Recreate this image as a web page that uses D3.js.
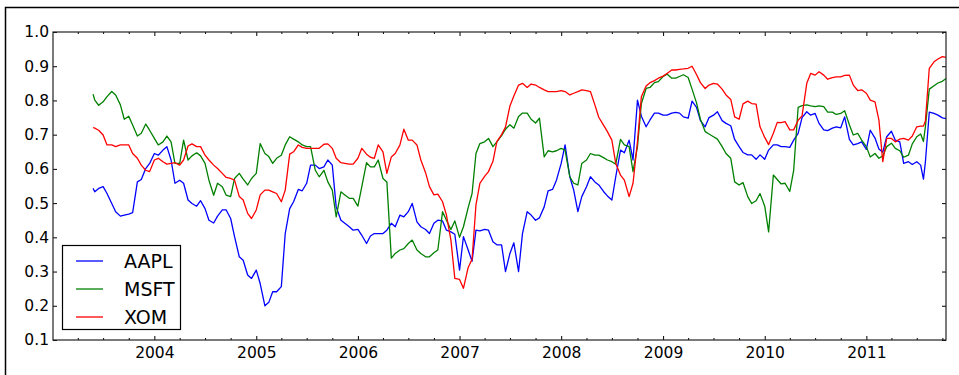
<!DOCTYPE html>
<html><head><meta charset="utf-8">
<script src="https://cdn.jsdelivr.net/npm/d3@7"></script>
<style>body{margin:0;background:#fff}svg{display:block}</style>
</head><body>
<svg id="chart" width="959" height="375"></svg>
<script>
const dates = [
"2003-05-26","2003-06-01","2003-06-15","2003-07-01","2003-07-15","2003-08-01","2003-08-15","2003-09-01","2003-09-15","2003-10-01","2003-10-15","2003-11-01","2003-11-15","2003-12-01","2003-12-15",
"2004-01-01","2004-01-15","2004-02-01","2004-02-15","2004-03-01","2004-03-15","2004-04-01","2004-04-15","2004-05-01","2004-05-15","2004-06-01","2004-06-15","2004-07-01","2004-07-15","2004-08-01","2004-08-15","2004-09-01","2004-09-15","2004-10-01","2004-10-15","2004-11-01","2004-11-15","2004-12-01","2004-12-15",
"2005-01-01","2005-01-15","2005-02-01","2005-02-15","2005-03-01","2005-03-15","2005-04-01","2005-04-15","2005-05-01","2005-05-15","2005-06-01","2005-06-15","2005-07-01","2005-07-15","2005-08-01","2005-08-15","2005-09-01","2005-09-15","2005-10-01","2005-10-15","2005-11-01","2005-11-15","2005-12-01","2005-12-15",
"2006-01-01","2006-01-15","2006-02-01","2006-02-15","2006-03-01","2006-03-15","2006-04-01","2006-04-15","2006-05-01","2006-05-15","2006-06-01","2006-06-15","2006-07-01","2006-07-15","2006-08-01","2006-08-15","2006-09-01","2006-09-15","2006-10-01","2006-10-15","2006-11-01","2006-11-15","2006-12-01","2006-12-15",
"2007-01-01","2007-01-15","2007-02-01","2007-02-15","2007-03-01","2007-03-15","2007-04-01","2007-04-15","2007-05-01","2007-05-15","2007-06-01","2007-06-15","2007-07-01","2007-07-15","2007-08-01","2007-08-15","2007-09-01","2007-09-15","2007-10-01","2007-10-15","2007-11-01","2007-11-15","2007-12-01","2007-12-15",
"2008-01-01","2008-01-15","2008-02-01","2008-02-15","2008-03-01","2008-03-15","2008-04-01","2008-04-15","2008-05-01","2008-05-15","2008-06-01","2008-06-15","2008-07-01","2008-07-15","2008-08-01","2008-08-15","2008-09-01","2008-09-15","2008-10-01","2008-10-15","2008-11-01","2008-11-15","2008-12-01","2008-12-15",
"2009-01-01","2009-01-15","2009-02-01","2009-02-15","2009-03-01","2009-03-15","2009-04-01","2009-04-15","2009-05-01","2009-05-15","2009-06-01","2009-06-15","2009-07-01","2009-07-15","2009-08-01","2009-08-15","2009-09-01","2009-09-15","2009-10-01","2009-10-15","2009-11-01","2009-11-15","2009-12-01","2009-12-15",
"2010-01-01","2010-01-15","2010-02-01","2010-02-15","2010-03-01","2010-03-15","2010-04-01","2010-04-15","2010-05-01","2010-05-15","2010-06-01","2010-06-15","2010-07-01","2010-07-15","2010-08-01","2010-08-15","2010-09-01","2010-09-15","2010-10-01","2010-10-15","2010-11-01","2010-11-15","2010-12-01","2010-12-15",
"2011-01-01","2011-01-15","2011-02-01","2011-02-15","2011-03-01","2011-03-15","2011-04-01","2011-04-15","2011-05-01","2011-05-15","2011-06-01","2011-06-15","2011-07-01","2011-07-15","2011-07-25","2011-08-01","2011-08-15","2011-09-01","2011-09-15","2011-10-01","2011-10-14"
];

const aapl = [
0.543,0.533,0.543,0.548,0.528,0.499,0.475,0.462,0.465,0.468,0.472,0.562,0.569,0.601,0.616,
0.645,0.640,0.655,0.665,0.626,0.558,0.567,0.558,0.509,0.499,0.491,0.507,0.484,0.450,0.442,0.462,0.480,0.480,0.455,0.402,0.343,0.333,0.290,0.280,
0.304,0.265,0.200,0.210,0.241,0.241,0.256,0.411,0.484,0.504,0.540,0.536,0.558,0.611,0.611,0.601,0.606,0.626,0.611,0.489,0.450,0.441,0.431,0.421,
0.423,0.406,0.382,0.404,0.411,0.411,0.411,0.421,0.441,0.431,0.465,0.460,0.475,0.499,0.445,0.431,0.423,0.411,0.441,0.450,0.448,0.421,0.416,0.409,
0.304,0.402,0.363,0.330,0.421,0.419,0.423,0.421,0.387,0.378,0.378,0.300,0.353,0.384,0.300,0.411,0.475,0.465,0.450,0.457,0.489,0.536,0.540,0.567,
0.616,0.670,0.577,0.538,0.475,0.519,0.548,0.577,0.562,0.553,0.534,0.521,0.509,0.577,0.655,0.647,0.684,0.626,0.801,0.754,0.723,0.743,0.763,0.763,
0.757,0.757,0.763,0.765,0.763,0.752,0.748,0.798,0.780,0.741,0.723,0.750,0.757,0.767,0.741,0.733,0.726,0.686,0.665,0.648,0.641,0.641,0.628,0.641,
0.628,0.655,0.670,0.670,0.665,0.665,0.663,0.684,0.704,0.750,0.767,0.757,0.762,0.733,0.714,0.712,0.719,0.723,0.720,0.752,0.686,0.670,0.674,0.679,
0.657,0.713,0.690,0.658,0.649,0.694,0.710,0.684,0.679,0.616,0.621,0.613,0.621,0.611,0.570,0.620,0.766,0.762,0.757,0.749,0.747
];

const msft = [
0.818,0.801,0.786,0.796,0.811,0.826,0.816,0.787,0.745,0.754,0.728,0.696,0.704,0.731,0.713,
0.689,0.670,0.679,0.696,0.679,0.616,0.616,0.684,0.626,0.638,0.647,0.638,0.616,0.567,0.523,0.558,0.548,0.523,0.519,0.572,0.587,0.570,0.553,0.572,
0.587,0.674,0.645,0.636,0.616,0.631,0.640,0.670,0.694,0.687,0.679,0.670,0.665,0.665,0.596,0.577,0.596,0.562,0.538,0.460,0.533,0.524,0.514,0.514,
0.491,0.548,0.618,0.606,0.606,0.626,0.572,0.562,0.339,0.353,0.363,0.367,0.382,0.392,0.363,0.353,0.343,0.343,0.355,0.363,0.475,0.450,0.423,0.448,
0.400,0.431,0.487,0.528,0.645,0.674,0.679,0.689,0.665,0.679,0.697,0.716,0.729,0.719,0.753,0.763,0.763,0.745,0.734,0.748,0.635,0.653,0.650,0.653,
0.660,0.655,0.577,0.558,0.553,0.616,0.626,0.645,0.640,0.640,0.633,0.626,0.621,0.614,0.686,0.670,0.665,0.592,0.665,0.791,0.835,0.838,0.852,0.855,
0.870,0.877,0.865,0.865,0.870,0.875,0.867,0.833,0.793,0.745,0.709,0.702,0.694,0.687,0.665,0.645,0.631,0.562,0.553,0.560,0.519,0.499,0.507,0.528,
0.491,0.416,0.582,0.569,0.556,0.558,0.534,0.596,0.780,0.785,0.787,0.784,0.782,0.784,0.782,0.766,0.766,0.759,0.762,0.770,0.729,0.699,0.704,0.684,
0.665,0.635,0.645,0.631,0.638,0.665,0.675,0.660,0.653,0.634,0.640,0.673,0.694,0.702,0.680,0.723,0.833,0.843,0.851,0.856,0.864
];

const xom = [
0.721,0.719,0.713,0.699,0.670,0.670,0.665,0.670,0.670,0.670,0.645,0.631,0.611,0.596,0.592,
0.626,0.631,0.621,0.614,0.616,0.618,0.611,0.626,0.667,0.673,0.665,0.665,0.640,0.626,0.611,0.601,0.587,0.575,0.572,0.567,0.519,0.509,0.470,0.455,
0.480,0.524,0.538,0.538,0.533,0.528,0.504,0.538,0.643,0.650,0.670,0.663,0.660,0.660,0.660,0.660,0.672,0.673,0.660,0.631,0.618,0.616,0.614,0.614,
0.631,0.660,0.643,0.634,0.631,0.670,0.650,0.587,0.635,0.645,0.670,0.716,0.684,0.684,0.670,0.626,0.589,0.548,0.524,0.526,0.504,0.465,0.392,0.280,
0.277,0.251,0.312,0.336,0.495,0.558,0.578,0.592,0.622,0.680,0.700,0.722,0.784,0.813,0.845,0.850,0.838,0.848,0.845,0.838,0.831,0.826,0.826,0.826,
0.829,0.826,0.816,0.821,0.826,0.831,0.829,0.826,0.787,0.751,0.728,0.709,0.684,0.616,0.582,0.567,0.519,0.558,0.680,0.811,0.842,0.852,0.858,0.865,
0.871,0.879,0.889,0.889,0.891,0.892,0.894,0.900,0.876,0.852,0.835,0.845,0.850,0.848,0.833,0.816,0.803,0.752,0.745,0.790,0.798,0.791,0.789,0.723,
0.692,0.671,0.704,0.736,0.735,0.738,0.714,0.714,0.742,0.755,0.850,0.879,0.874,0.884,0.874,0.862,0.867,0.869,0.869,0.873,0.874,0.845,0.829,0.831,
0.821,0.801,0.796,0.743,0.621,0.689,0.689,0.679,0.687,0.689,0.684,0.696,0.723,0.725,0.725,0.740,0.894,0.913,0.921,0.928,0.926
];

const seriesNames = ["AAPL", "MSFT", "XOM"];
const seriesColors = ["#0000ff", "#008000", "#ff0000"];
const yTickValues = [0.1, 0.2, 0.3, 0.4, 0.5, 0.6, 0.7, 0.8, 0.9, 1.0];
const yearTickLabels = ["2004", "2005", "2006", "2007", "2008", "2009", "2010", "2011"];
const dateDomain = ["2003-01-02", "2011-10-14"];
const yDomain = [0.1, 1.0];

const parse = d3.timeParse("%Y-%m-%d");
const L = 53, R = 946, T = 32, B = 340;
const FONT = "DejaVu Sans, Liberation Sans, sans-serif";

const svg = d3.select("#chart");
svg.append("rect").attr("width", 959).attr("height", 375).attr("fill", "#fff");

// figure frame (top & left)
svg.append("path").attr("d", "M5.5,375V7.5H959")
  .attr("fill", "none").attr("stroke", "#000").attr("stroke-width", 1.5);

const x = d3.scaleTime().domain(dateDomain.map(parse)).range([L, R]);
const y = d3.scaleLinear().domain(yDomain).range([B, T]);

const seriesValues = [aapl, msft, xom];
const seriesData = seriesNames.map((name, i) => ({
  name, color: seriesColors[i],
  points: dates.map((d, j) => ({ date: parse(d), v: seriesValues[i][j] }))
}));

const line = d3.line().x(d => x(d.date)).y(d => y(d.v));
const plot = svg.append("g");
plot.selectAll("path.series").data(seriesData).enter().append("path")
  .attr("class", "series")
  .attr("d", d => line(d.points))
  .attr("fill", "none").attr("stroke", d => d.color)
  .attr("stroke-width", 1.3).attr("stroke-linejoin", "round");

// ticks
const yearDates = yearTickLabels.map(s => parse(s + "-01-01"));
const quarterDates = d3.timeMonth.every(3).range(x.domain()[0], x.domain()[1])
  .filter(d => d.getMonth() !== 0);

function styleAxis(g) {
  g.select(".domain").remove();
  g.selectAll(".tick line").attr("stroke", "#000").attr("stroke-width", 1);
  g.selectAll("text").attr("font-family", FONT).attr("font-size", "15.5px").attr("fill", "#000");
}

svg.append("g").attr("transform", `translate(0,${B})`)
  .call(d3.axisBottom(x).tickValues(yearDates).tickSize(-4).tickPadding(7).tickFormat(d3.timeFormat("%Y")))
  .call(styleAxis);
svg.append("g").attr("transform", `translate(0,${B})`)
  .call(d3.axisBottom(x).tickValues(quarterDates).tickSize(-2).tickFormat(""))
  .call(styleAxis);
svg.append("g").attr("transform", `translate(0,${T})`)
  .call(d3.axisTop(x).tickValues(yearDates).tickSize(-4).tickFormat(""))
  .call(styleAxis);
svg.append("g").attr("transform", `translate(0,${T})`)
  .call(d3.axisTop(x).tickValues(quarterDates).tickSize(-2).tickFormat(""))
  .call(styleAxis);
svg.append("g").attr("transform", `translate(${L},0)`)
  .call(d3.axisLeft(y).tickValues(yTickValues).tickSize(-4).tickPadding(4).tickFormat(d3.format(".1f")))
  .call(styleAxis);
svg.append("g").attr("transform", `translate(${R},0)`)
  .call(d3.axisRight(y).tickValues(yTickValues).tickSize(-4).tickFormat(""))
  .call(styleAxis);

// axes frame
svg.append("rect").attr("x", L).attr("y", T).attr("width", R - L).attr("height", B - T)
  .attr("fill", "none").attr("stroke", "#222").attr("stroke-width", 1.2);

// legend
const lg = svg.append("g");
lg.append("rect").attr("x", 62.5).attr("y", 245.5).attr("width", 118).attr("height", 84)
  .attr("fill", "#fff").attr("stroke", "#000").attr("stroke-width", 1.2);
seriesData.forEach((s, i) => {
  const cy = 261 + i * 28;
  lg.append("line").attr("x1", 76).attr("x2", 103).attr("y1", cy).attr("y2", cy)
    .attr("stroke", s.color).attr("stroke-width", 1.3);
  lg.append("text").attr("x", 124).attr("y", cy).attr("dy", "0.36em")
    .attr("font-family", FONT).attr("font-size", "19px").attr("fill", "#000").text(s.name);
});
</script>
</body></html>
